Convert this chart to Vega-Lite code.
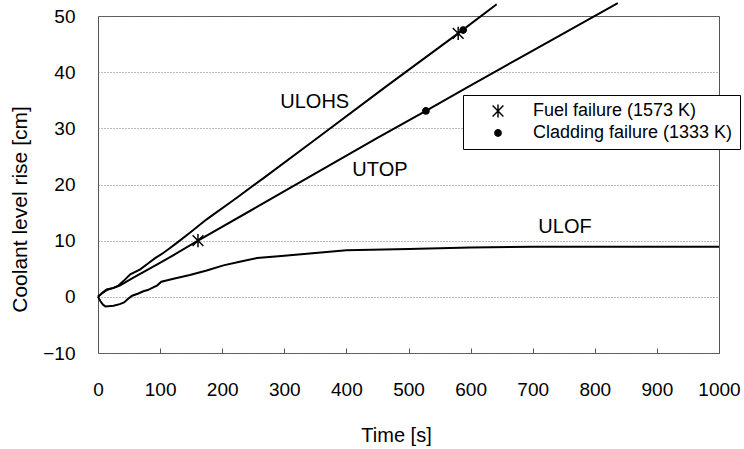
{
  "$schema": "https://vega.github.io/schema/vega-lite/v6.json",
  "width": 621,
  "height": 337,
  "autosize": {"type": "none"},
  "padding": {"left": 98, "top": 16, "right": 25, "bottom": 96},
  "background": "white",
  "config": {
    "font": "Liberation Sans",
    "view": {"stroke": "#555555", "strokeWidth": 1},
    "axis": {
      "labelFont": "Liberation Sans",
      "titleFont": "Liberation Sans",
      "labelColor": "black",
      "titleColor": "black",
      "titleFontWeight": "normal",
      "domain": false
    }
  },
  "datasets": {
    "curves": [
      {"case": "ULOHS", "t": 0, "v": 0},
      {"case": "ULOHS", "t": 8, "v": 0.8},
      {"case": "ULOHS", "t": 14, "v": 1.3},
      {"case": "ULOHS", "t": 25, "v": 1.6},
      {"case": "ULOHS", "t": 33, "v": 2.0},
      {"case": "ULOHS", "t": 41, "v": 2.8},
      {"case": "ULOHS", "t": 52, "v": 4.0},
      {"case": "ULOHS", "t": 68, "v": 4.9},
      {"case": "ULOHS", "t": 80, "v": 5.9},
      {"case": "ULOHS", "t": 92, "v": 6.9},
      {"case": "ULOHS", "t": 105, "v": 7.8},
      {"case": "ULOHS", "t": 116, "v": 8.7},
      {"case": "ULOHS", "t": 127, "v": 9.6},
      {"case": "ULOHS", "t": 148, "v": 11.4},
      {"case": "ULOHS", "t": 175, "v": 13.8},
      {"case": "ULOHS", "t": 223, "v": 17.6},
      {"case": "ULOHS", "t": 266, "v": 21.1},
      {"case": "ULOHS", "t": 350, "v": 28.0},
      {"case": "ULOHS", "t": 462, "v": 37.3},
      {"case": "ULOHS", "t": 580, "v": 46.9},
      {"case": "ULOHS", "t": 642, "v": 52.1},
      {"case": "UTOP", "t": 0, "v": 0},
      {"case": "UTOP", "t": 6, "v": 0.6},
      {"case": "UTOP", "t": 14, "v": 1.2},
      {"case": "UTOP", "t": 25, "v": 1.6},
      {"case": "UTOP", "t": 35, "v": 2.0},
      {"case": "UTOP", "t": 57, "v": 3.4},
      {"case": "UTOP", "t": 94, "v": 5.7},
      {"case": "UTOP", "t": 121, "v": 7.4},
      {"case": "UTOP", "t": 161, "v": 10.0},
      {"case": "UTOP", "t": 256, "v": 16.0},
      {"case": "UTOP", "t": 341, "v": 21.4},
      {"case": "UTOP", "t": 450, "v": 28.3},
      {"case": "UTOP", "t": 528, "v": 33.1},
      {"case": "UTOP", "t": 596, "v": 37.4},
      {"case": "UTOP", "t": 680, "v": 42.6},
      {"case": "UTOP", "t": 837, "v": 52.3},
      {"case": "ULOF", "t": 0, "v": 0},
      {"case": "ULOF", "t": 4, "v": -0.8},
      {"case": "ULOF", "t": 8, "v": -1.4},
      {"case": "ULOF", "t": 12, "v": -1.7},
      {"case": "ULOF", "t": 25, "v": -1.6},
      {"case": "ULOF", "t": 35, "v": -1.3},
      {"case": "ULOF", "t": 42, "v": -1.0},
      {"case": "ULOF", "t": 48, "v": -0.4},
      {"case": "ULOF", "t": 55, "v": 0.2},
      {"case": "ULOF", "t": 65, "v": 0.6},
      {"case": "ULOF", "t": 73, "v": 1.0},
      {"case": "ULOF", "t": 80, "v": 1.2},
      {"case": "ULOF", "t": 89, "v": 1.7},
      {"case": "ULOF", "t": 95, "v": 2.0},
      {"case": "ULOF", "t": 102, "v": 2.7},
      {"case": "ULOF", "t": 125, "v": 3.3},
      {"case": "ULOF", "t": 148, "v": 3.9},
      {"case": "ULOF", "t": 175, "v": 4.7},
      {"case": "ULOF", "t": 202, "v": 5.6},
      {"case": "ULOF", "t": 230, "v": 6.3},
      {"case": "ULOF", "t": 256, "v": 6.9},
      {"case": "ULOF", "t": 300, "v": 7.3},
      {"case": "ULOF", "t": 341, "v": 7.7},
      {"case": "ULOF", "t": 400, "v": 8.3},
      {"case": "ULOF", "t": 500, "v": 8.5},
      {"case": "ULOF", "t": 600, "v": 8.8},
      {"case": "ULOF", "t": 700, "v": 8.9},
      {"case": "ULOF", "t": 1000, "v": 8.9}
    ],
    "events": [
      {"type": "Fuel failure (1573 K)", "t": 161, "v": 10.0},
      {"type": "Fuel failure (1573 K)", "t": 580, "v": 46.9},
      {"type": "Cladding failure (1333 K)", "t": 528, "v": 33.1},
      {"type": "Cladding failure (1333 K)", "t": 588, "v": 47.5}
    ],
    "labels": [
      {"label": "ULOHS", "t": 349, "v": 34.6},
      {"label": "UTOP", "t": 454, "v": 22.6},
      {"label": "ULOF", "t": 752, "v": 12.4}
    ]
  },
  "layer": [
    {
      "data": {"name": "curves"},
      "mark": {"type": "line", "color": "black", "strokeWidth": 2, "clip": false},
      "encoding": {
        "x": {
          "field": "t", "type": "quantitative",
          "scale": {"domain": [0, 1000], "nice": false, "zero": false},
          "axis": {
            "values": [0, 100, 200, 300, 400, 500, 600, 700, 800, 900, 1000],
            "format": "d",
            "grid": false,
            "ticks": true,
            "tickSize": -5,
            "tickColor": "#555555",
            "tickWidth": 1,
            "labelFontSize": 19,
            "labelPadding": 32,
            "labelFlush": false,
            "title": "Time [s]",
            "titleFontSize": 20,
            "titlePadding": 26,
            "titleX": 298
          }
        },
        "y": {
          "field": "v", "type": "quantitative",
          "scale": {"domain": [-10, 50], "nice": false, "zero": false},
          "axis": {
            "values": [-10, 0, 10, 20, 30, 40, 50],
            "grid": true,
            "gridColor": "#777777",
            "gridDash": [1, 2],
            "gridWidth": 1,
            "ticks": false,
            "labelFontSize": 19,
            "labelPadding": 23,
            "labelFlush": false,
            "title": "Coolant level rise [cm]",
            "titleFontSize": 21,
            "titleX": -78,
            "titleY": 193,
            "titleBaseline": "middle",
            "titleAlign": "center"
          }
        },
        "detail": {"field": "case", "type": "nominal"}
      }
    },
    {
      "data": {"name": "events"},
      "mark": {"type": "point", "filled": true, "fill": "black", "strokeWidth": 0, "size": 144, "opacity": 1, "clip": false},
      "encoding": {
        "x": {"field": "t", "type": "quantitative"},
        "y": {"field": "v", "type": "quantitative"},
        "shape": {
          "field": "type", "type": "nominal",
          "scale": {
            "domain": ["Fuel failure (1573 K)", "Cladding failure (1333 K)"],
            "range": [
              "M-0.12,-1.1L0.12,-1.1L0.12,1.1L-0.12,1.1ZM-0.985,-0.815L-0.815,-0.985L0.985,0.815L0.815,0.985ZM0.815,-0.985L0.985,-0.815L-0.815,0.985L-0.985,0.815Z",
              "M-0.65,0A0.65,0.65,0,1,0,0.65,0A0.65,0.65,0,1,0,-0.65,0Z"
            ]
          },
          "legend": {
            "orient": "none",
            "legendX": 365,
            "legendY": 79,
            "title": null,
            "fillColor": "white",
            "strokeColor": "black",
            "padding": 7,
            "symbolOffset": 19,
            "labelOffset": 26,
            "labelFontSize": 18,
            "labelFont": "Liberation Sans",
            "labelColor": "black",
            "labelLimit": 400,
            "rowPadding": 4,
            "symbolSize": 144,
            "symbolFillColor": "black",
            "symbolStrokeWidth": 0,
            "symbolOpacity": 1
          }
        }
      }
    },
    {
      "data": {"name": "labels"},
      "mark": {"type": "text", "fontSize": 20, "font": "Liberation Sans", "color": "black", "align": "center", "baseline": "middle"},
      "encoding": {
        "x": {"field": "t", "type": "quantitative"},
        "y": {"field": "v", "type": "quantitative"},
        "text": {"field": "label", "type": "nominal"}
      }
    }
  ]
}
